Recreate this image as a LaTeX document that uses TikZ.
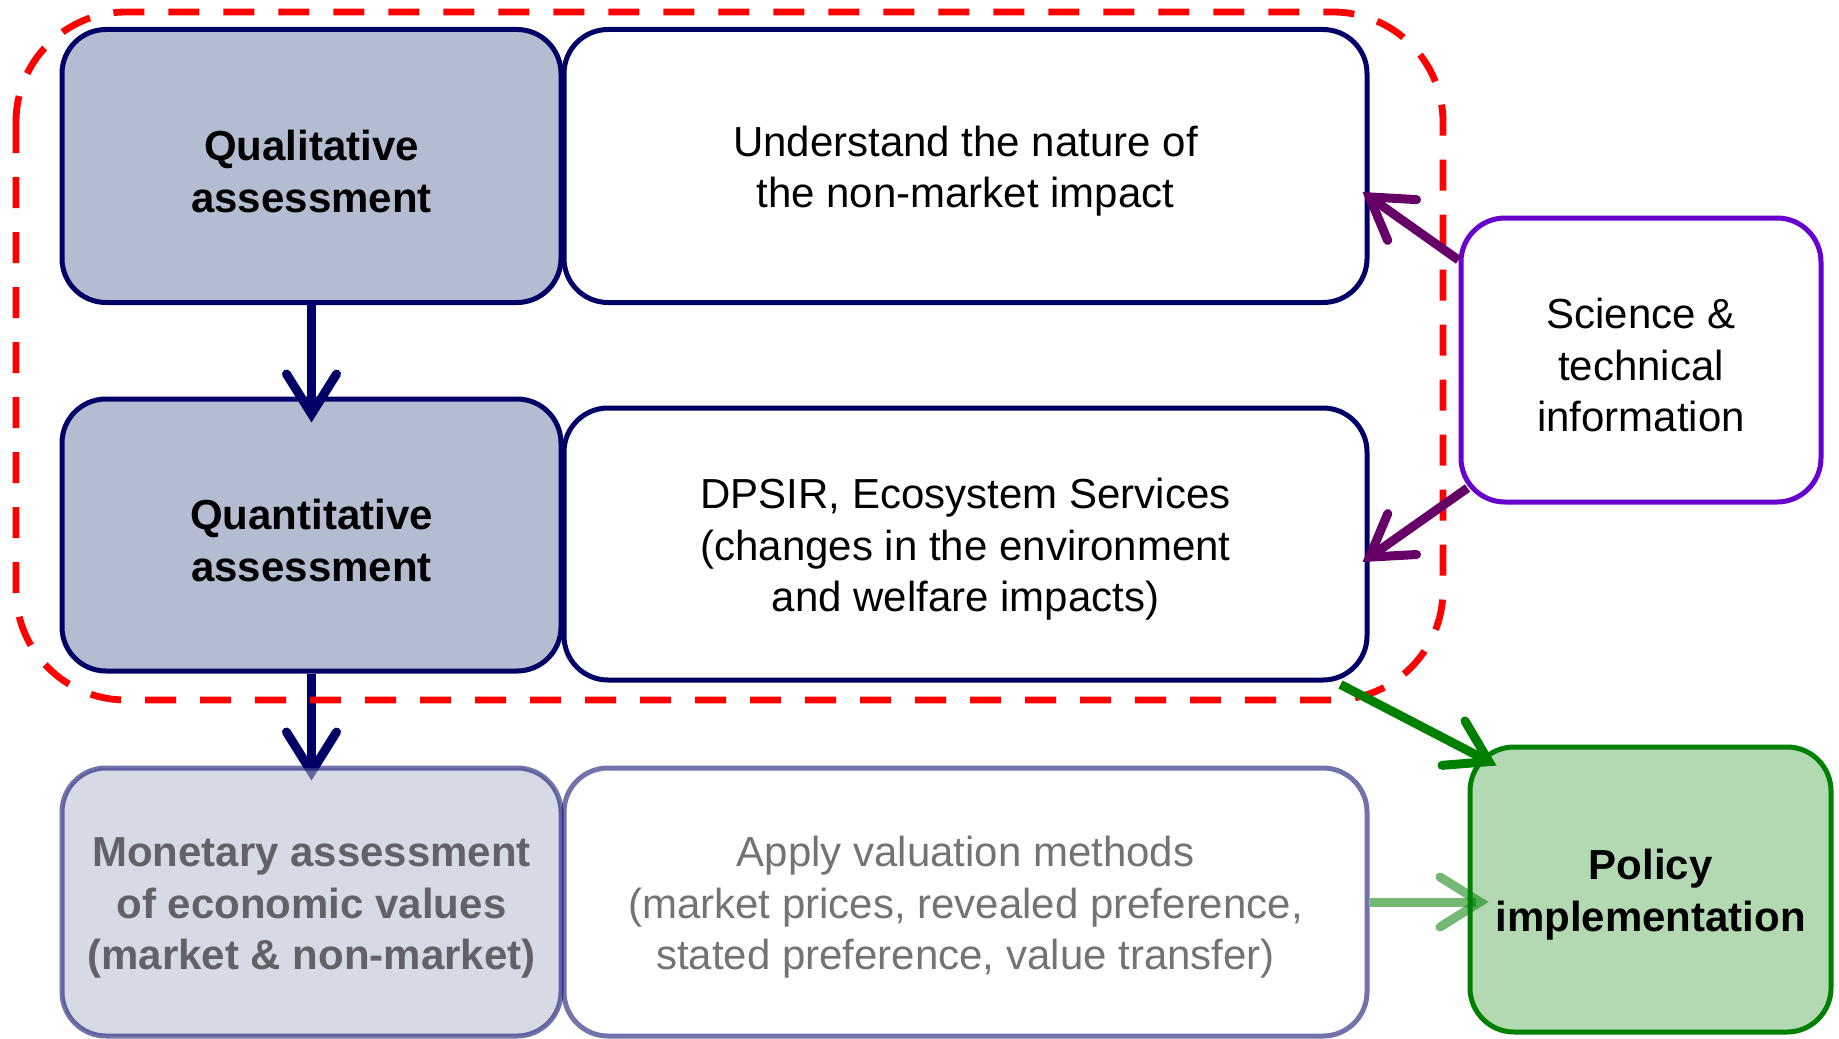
\documentclass[tikz,border=0pt]{standalone}
\usepackage{fontspec}
\setmainfont{Liberation Sans}
\usetikzlibrary{arrows.meta,backgrounds}

\definecolor{stagenavy}{HTML}{000066}
\definecolor{stagefill}{HTML}{B3BCD0}
\definecolor{scipurple}{HTML}{6600CC}
\definecolor{linkpurple}{HTML}{660066}
\definecolor{policygreen}{HTML}{008000}
\definecolor{policyfill}{HTML}{B3D9B3}

% a taller first line, so the text sits a little lower in its box
\newcommand{\toprow}{\rule{0pt}{20.5pt}}

\tikzset{
  stage/.style={draw=stagenavy, fill=stagefill, line width=2.5pt,
    rounded corners=22pt, align=center, inner sep=0pt,
    minimum width=249.5pt,
    font=\fontsize{21}{25.8}\selectfont\bfseries},
  detail/.style={stage, fill=white, minimum width=401.5pt,
    font=\fontsize{21}{25.8}\selectfont},
  faded/.style={opacity=0.55},
  flow/.style={line width=4.5pt,
    -{Straight Barb[length=20pt,width=25pt,line cap=round]}},
}

\begin{document}
\begin{tikzpicture}[x=0.5pt,y=-0.5pt]
  \useasboundingbox (0,0) rectangle (1839,1038);

  % rows of the assessment
  \node[stage, minimum height=136.5pt] (qual) at (311.5,166) {\toprow Qualitative\\assessment};
  \node[detail, minimum height=136.5pt] (nature) at (965.5,166)
    {\toprow Understand the nature of\\the non-market impact};
  \node[stage, minimum height=136pt] (quant) at (311.5,535) {\toprow Quantitative\\assessment};
  \node[detail, minimum height=136pt] (dpsir) at (965.5,544)
    {\toprow DPSIR, Ecosystem Services\\(changes in the environment\\and welfare impacts)};
  \node[stage, faded, minimum height=134pt] (money) at (311.5,902)
    {\toprow Monetary assessment\\of economic values\\(market \& non-market)};
  \node[detail, faded, minimum height=134pt] (valuation) at (965.5,902)
    {\toprow Apply valuation methods\\(market prices, revealed preference,\\stated preference, value transfer)};

  % side boxes
  \node[detail, draw=scipurple, minimum width=180pt, minimum height=142pt] (science) at (1641,360)
    {\toprow Science \&\\technical\\information};
  \node[stage, draw=policygreen, fill=policyfill, minimum width=180.5pt, minimum height=142.5pt]
    (policy) at (1650.5,889.5) {\toprow Policy\\implementation};

  % non-market part
  \draw[red, line width=3.4pt, dash pattern=on 15.5pt off 12pt, rounded corners=55pt]
    (16,12) rectangle (1443,700);

  \draw[flow, stagenavy, shorten >=-13pt] (qual.south) -- (quant.north);
  \begin{scope}[on background layer]
    \draw[flow, stagenavy, shorten >=-7.5pt] (quant.south) -- (money.north);
  \end{scope}

  \draw[flow, linkpurple] ([shift={(0,-100)}]science.west) -- ([shift={(-7,26)}]nature.east);
  \draw[flow, linkpurple] ([shift={(9,128)}]science.west) -- ([shift={(-7,18)}]dpsir.east);
  \draw[flow, policygreen] ([shift={(-29,2)}]dpsir.south east) -- ([shift={(29,21)}]policy.north west);
  \draw[flow, policygreen, opacity=0.55, shorten >=-10.5pt] (valuation.east) -- (valuation.east -| policy.west);
\end{tikzpicture}
\end{document}
